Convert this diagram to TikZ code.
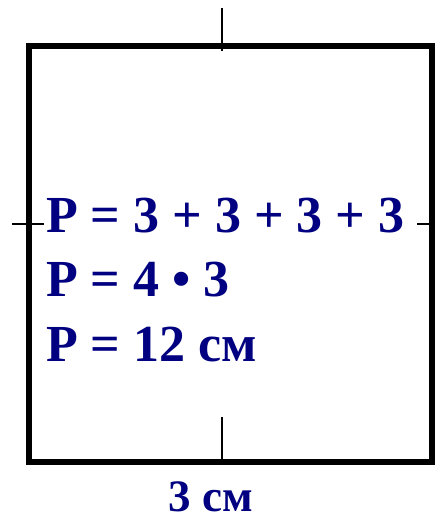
\documentclass[tikz,border=0pt]{standalone}
\usepackage{fontspec}
\setmainfont{Liberation Serif}
\usepackage{xcolor}
\usepackage{tikz}
\usetikzlibrary{positioning}
\definecolor{formulablue}{RGB}{0, 0, 128}
\newcommand{\bigbold}{\fontsize{52}{60}\selectfont\bfseries}
\tikzset{
    formula/.style={anchor=base west, inner sep=0pt, text=formulablue, font=\bigbold},
    midtick/.style={line width=1.5pt}
}

\begin{document}
\begin{tikzpicture}[x=1pt, y=1pt]
    \useasboundingbox (0,0) rectangle (435,523);
    % square
    \coordinate (sw) at (28.5,61);
    \coordinate (ne) at (432,476.5);
    \draw[line width=6pt] (sw) rectangle (ne);
    % marks in the middle of the sides
    \draw[midtick] (222,515) -- (222,472);
    \draw[midtick] (222,106) -- (222,61);
    \draw[midtick] (12,299) -- (44,299);
    \draw[midtick] (417,299) -- (435,299);
    % perimeter
    \node[formula] (sum) at (46,290) {P = 3 + 3 + 3 + 3};
    \node[formula] (prod) at (46,226) {P = 4 \textbullet{} 3};
    \node[formula] (res) at (46,161) {P = 12 см};
    \node[anchor=base, inner sep=0pt, text=formulablue,
          font=\fontsize{45}{50}\selectfont\bfseries] (side) at (211,11) {3 см};
\end{tikzpicture}
\end{document}
